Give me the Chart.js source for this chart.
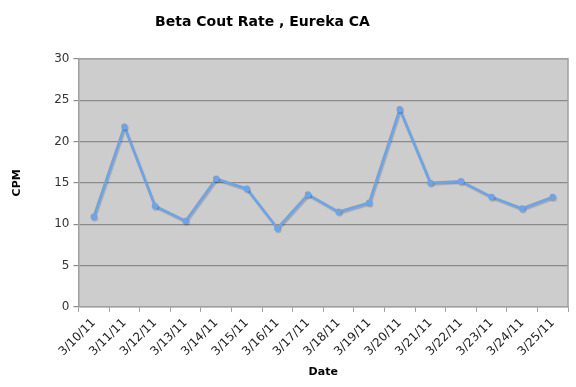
<!DOCTYPE html>
<html><head><meta charset="utf-8">
<script src="https://cdn.jsdelivr.net/npm/chart.js@4.4.0/dist/chart.umd.min.js"></script>
<style>html,body{margin:0;padding:0;background:#fff}#c{display:block}</style>
</head><body>
<canvas id="c" width="576" height="387"></canvas>
<script>
const categories = ["3/10/11","3/11/11","3/12/11","3/13/11","3/14/11","3/15/11","3/16/11","3/17/11","3/18/11","3/19/11","3/20/11","3/21/11","3/22/11","3/23/11","3/24/11","3/25/11"];
const cpmValues = [10.9,21.8,12.2,10.4,15.5,14.3,9.5,13.6,11.5,12.6,23.9,15.0,15.2,13.3,11.9,13.3];
const yTicks = [0,5,10,15,20,25,30];

const bgPlugin = {
  id:'bg',
  afterLayout(chart){
    if (chart.titleBlock) { chart.titleBlock.right -= 54; }
  },
  beforeDraw(chart){
    const {ctx, chartArea:a} = chart;
    ctx.save();
    ctx.fillStyle = '#cdcdcd';
    ctx.fillRect(a.left, a.top, a.right-a.left, a.bottom-a.top);
    ctx.restore();
  },
  afterDatasetsDraw(chart){
    const {ctx, chartArea:a} = chart;
    ctx.save();
    ctx.strokeStyle = '#a0a0a0';
    ctx.lineWidth = 1.5;
    ctx.beginPath();
    ctx.moveTo(a.left, a.top); ctx.lineTo(a.right, a.top); ctx.lineTo(a.right, a.bottom);
    ctx.stroke();
    ctx.restore();
  }
};
const shadowPlugin = {
  id:'shadow',
  beforeDatasetDraw(chart){
    const ctx = chart.ctx;
    ctx.save();
    ctx.shadowColor = 'rgba(0,0,0,0.2)';
    ctx.shadowOffsetX = 1;
    ctx.shadowOffsetY = 1.5;
    ctx.shadowBlur = 1;
  },
  afterDatasetDraw(chart){ chart.ctx.restore(); }
};

new Chart(document.getElementById('c'), {
  type:'line',
  data:{ labels: categories, datasets:[{
    data: cpmValues,
    borderColor:'#6ea3e6',
    backgroundColor:'#6ea3e6',
    borderWidth:2.6,
    pointRadius:3.2,
    pointStyle:'circle',
    pointBorderWidth:0,
    tension:0
  }]},
  options:{
    responsive:false,
    animation:false,
    devicePixelRatio:1,
    layout:{padding:{left:11,right:8,top:0,bottom:8}},
    plugins:{
      legend:{display:false},
      tooltip:{enabled:false},
      title:{display:true, text:'Beta Cout Rate , Eureka CA', color:'#000',
        font:{family:'DejaVu Sans', size:14, weight:'bold'}, padding:{top:14,bottom:28}}
    },
    scales:{
      x:{
        offset:true,
        grid:{offset:true, drawOnChartArea:false, drawTicks:true, tickLength:5, color:'#a0a0a0'},
        border:{color:'#a0a0a0', width:1.5},
        ticks:{maxRotation:45, minRotation:45, color:'#222', font:{family:'DejaVu Sans', size:12}, padding:4, autoSkip:false},
        title:{display:true, text:'Date', color:'#000', font:{family:'DejaVu Sans', size:11, weight:'bold'}, padding:{top:3,bottom:0}}
      },
      y:{
        min:0, max:30,
        afterBuildTicks(scale){ scale.ticks = yTicks.map(v=>({value:v})); },
        grid:{color:'#8a8a8a', lineWidth:1.2, tickLength:5, drawTicks:true},
        border:{color:'#a0a0a0', width:1.5},
        ticks:{color:'#333', font:{family:'DejaVu Sans', size:12}, padding:4},
        title:{display:true, text:'CPM', color:'#000', font:{family:'DejaVu Sans', size:11, weight:'bold'}, padding:{top:0,bottom:26}}
      }
    }
  },
  plugins:[bgPlugin, shadowPlugin]
});
</script>
</body></html>
